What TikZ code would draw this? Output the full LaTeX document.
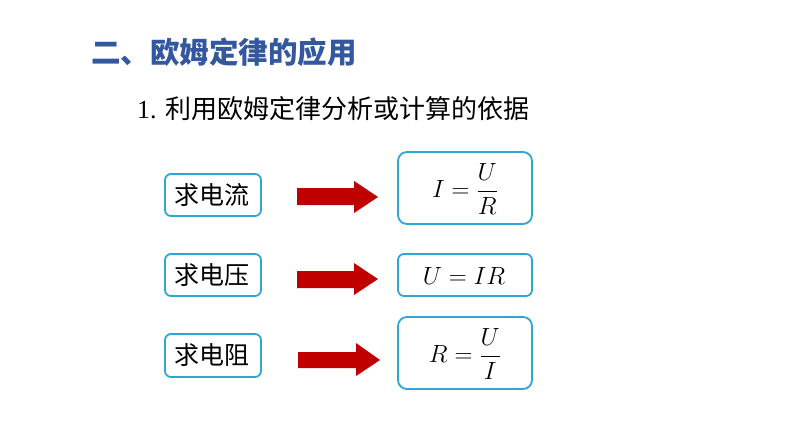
\documentclass[tikz,border=0pt]{standalone}
\usepackage{amsmath}
\usepackage{fontspec}
\setmainfont{Liberation Serif}
\newfontfamily\cjk{Noto Sans CJK SC}
\definecolor{titleblue}{RGB}{52,88,160}
\definecolor{boxcyan}{RGB}{45,166,214}
\definecolor{arrowred}{RGB}{192,0,0}
\begin{document}
\begin{tikzpicture}[x=1pt,y=-1pt,
  qbox/.style={draw=boxcyan,line width=1.8pt,rounded corners=6pt,fill=white},
  fbox/.style={draw=boxcyan,line width=1.8pt,rounded corners=9pt,fill=white},
  qtext/.style={font=\cjk\fontsize{25}{29}\selectfont},
  ftext/.style={font=\fontsize{24}{28}\selectfont},
  bigarrow/.style={fill=arrowred,draw=none}]
\useasboundingbox (0,0) rectangle (794,447);
% title
\node[anchor=west,inner sep=0,text=titleblue,font=\cjk\bfseries\fontsize{29.5}{33}\selectfont] (title) at (91,52) {二、欧姆定律的应用};
\node[anchor=west,inner sep=0,font=\fontsize{26}{30}\selectfont] (sub) at (137,109) {1. {\cjk 利用欧姆定律分析或计算的依据}};
% left boxes
\draw[qbox] (165,174) rectangle (261,216);
\node[qtext] (q1) at (212,195) {求电流};
\draw[qbox] (165,254) rectangle (261,296);
\node[qtext] (q2) at (212,275) {求电压};
\draw[qbox] (165,334) rectangle (261,377);
\node[qtext] (q3) at (212,355) {求电阻};
% right boxes
\draw[fbox] (398,152) rectangle (532,224);
\node[ftext] (f1) at (465,189) {$I=\dfrac{U}{R}$};
\draw[qbox] (398,254) rectangle (532,296);
\node[ftext] (f2) at (464,276) {$U=IR$};
\draw[fbox] (398,317) rectangle (532,389);
\node[ftext] (f3) at (465,354) {$R=\dfrac{U}{I}$};
% arrows
\fill[bigarrow] (297,188) -- (354,188) -- (354,181) -- (378,197) -- (354,213) -- (354,205) -- (297,205) -- cycle;
\fill[bigarrow] (297,271) -- (354,271) -- (354,263) -- (378,279) -- (354,295) -- (354,288) -- (297,288) -- cycle;
\fill[bigarrow] (298,352) -- (356,352) -- (356,343) -- (380,360) -- (356,376) -- (356,368) -- (298,368) -- cycle;
\end{tikzpicture}
\end{document}
